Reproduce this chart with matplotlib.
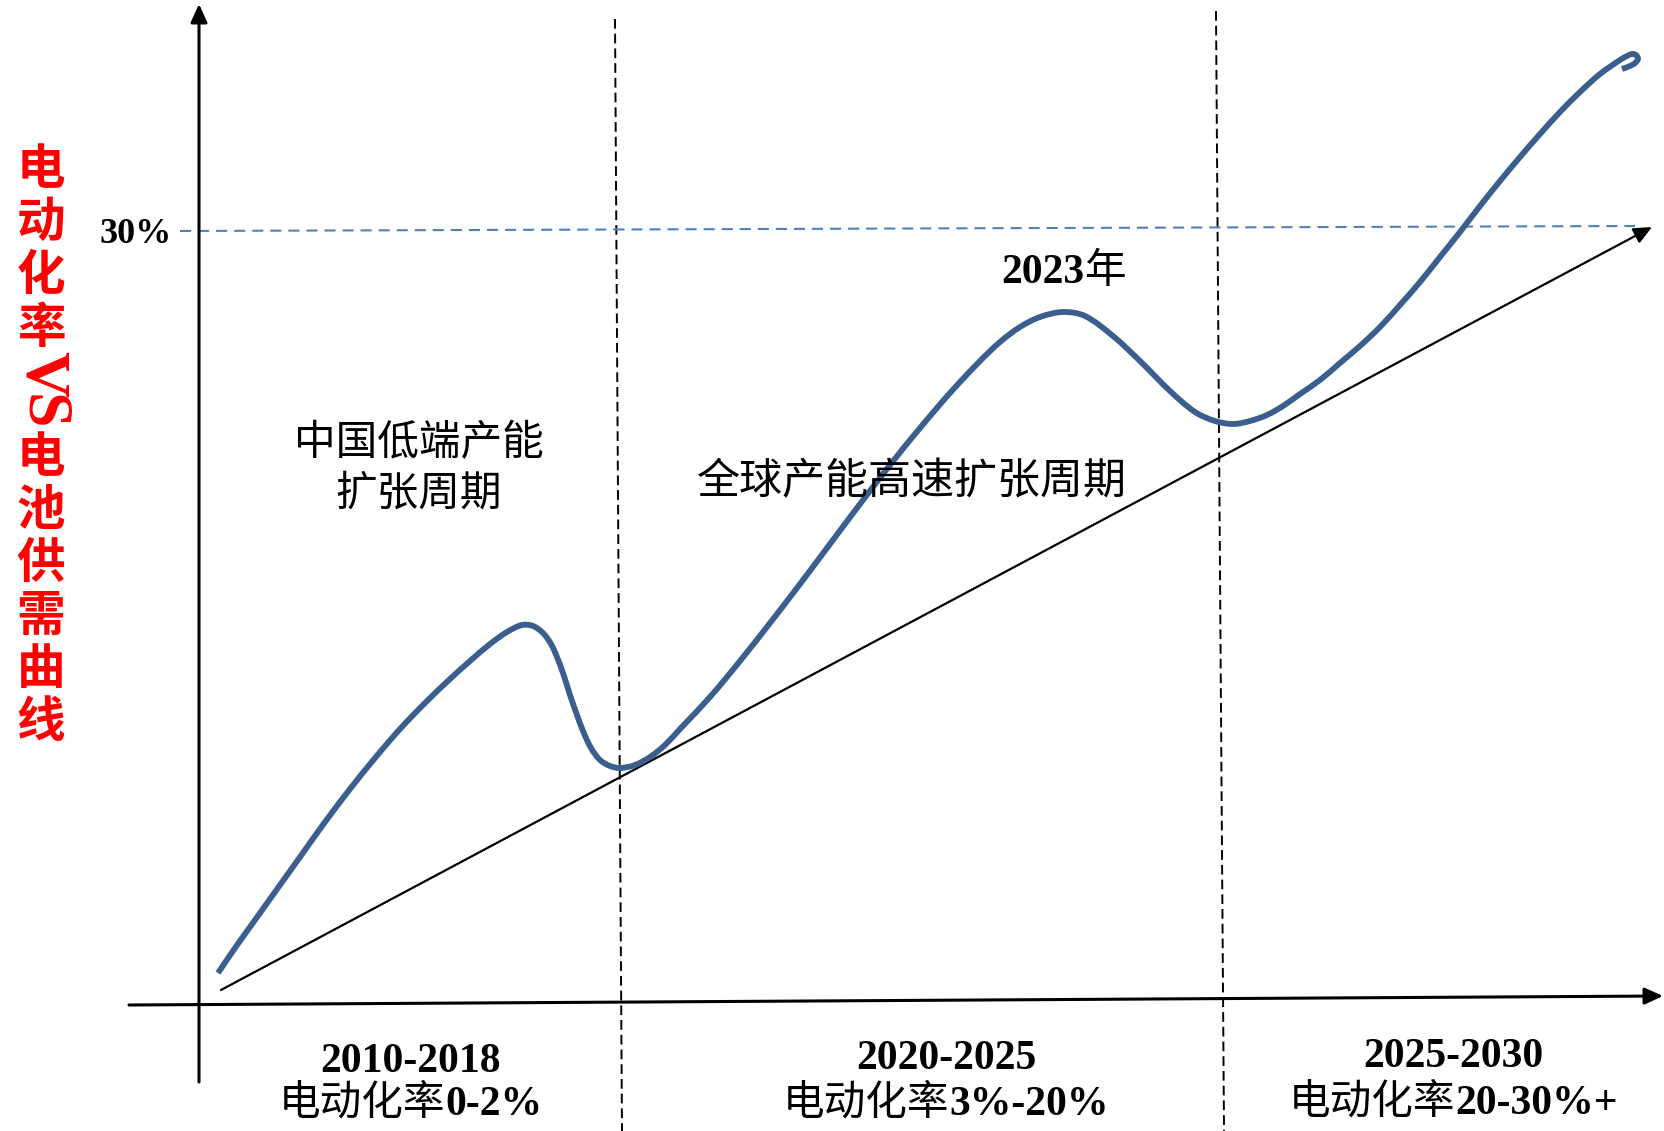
import matplotlib
matplotlib.use('Agg')
import math
import matplotlib.pyplot as plt
from matplotlib.path import Path
from matplotlib.patches import PathPatch

W, H, DPI = 1664, 1131, 100

# ---- schematic data (canvas units) ----
curve_x = [218, 235, 250, 275, 300, 325, 350, 375, 400, 425, 450, 470, 490, 507, 522,
           533, 543, 551, 557, 564, 570, 577, 583, 591, 600, 610, 620, 635, 650, 665,
           680, 710, 740, 770, 800, 830, 860, 890, 920, 950, 980, 1000, 1020, 1040, 1063,
           1085, 1113, 1140, 1170, 1195, 1215, 1233,
           1250, 1267, 1283, 1300, 1320, 1340, 1360, 1380, 1400, 1420, 1440, 1460,
           1480, 1500, 1520, 1540, 1560, 1580, 1600, 1620, 1627, 1632,
           1636, 1638, 1635, 1630, 1622]
curve_y = [973, 948, 927, 892, 857, 822, 789, 758, 729, 703, 679, 661, 644, 632, 625,
           626, 633, 644, 657, 676, 695, 715, 731, 748, 760, 766, 768, 765, 757, 745,
           729, 697, 661, 623, 584, 544, 504, 465, 428, 393, 361, 342, 327, 317, 312,
           316, 336, 361, 391, 412, 421, 424,
           421, 415, 406, 394, 380, 363, 346, 327, 305, 282, 257, 232,
           206, 181, 157, 134, 112, 92, 74, 60, 56, 54,
           55, 59, 63, 66, 69]
trend_x = [221, 1652]
trend_y = [990, 227]
threshold_label = '30%'
period_labels = ['2010-2018', '2020-2025', '2025-2030']
rate_labels = ['电动化率0-2%', '电动化率3%-20%', '电动化率20-30%+']
phase1_lines = ['中国低端产能', '扩张周期']
phase2_label = '全球产能高速扩张周期'
peak_label = '2023年'
ylabel_chars = list('电动化率VS电池供需曲线')

CJK = 'Noto Sans CJK SC'
SERIF = 'Liberation Serif'
BLUE = '#3a5f8e'
LIGHTBLUE = '#4f81bd'

plt.rcParams['lines.scale_dashes'] = False

fig = plt.figure(figsize=(W / DPI, H / DPI), dpi=DPI)
ax = fig.add_axes([0, 0, 1, 1])
ax.set_xlim(0, W)
ax.set_ylim(H, 0)
ax.axis('off')
renderer = fig.canvas.get_renderer()


def is_cjk(c):
    return ord(c) > 0x2E80


def rich_text(x, y, s, size, color='black', cjk_weight='medium'):
    """Centered mixed text: CJK in Noto Sans CJK, others in bold serif; y = baseline."""
    runs = []
    for c in s:
        kind = is_cjk(c)
        if runs and runs[-1][0] == kind:
            runs[-1][1] += c
        else:
            runs.append([kind, c])
    arts = []
    for kind, txt in runs:
        if kind:
            t = ax.text(0, y, txt, fontsize=size, family=[CJK], weight=cjk_weight,
                        color=color, ha='left', va='baseline', zorder=6)
        else:
            t = ax.text(0, y, txt, fontsize=size, family=[SERIF, CJK], weight='bold',
                        color=color, ha='left', va='baseline', zorder=6)
        arts.append(t)
    widths = [t.get_window_extent(renderer).width for t in arts]
    start = x - sum(widths) / 2
    for t, w in zip(arts, widths):
        t.set_x(start)
        start += w


def smooth_path(xs, ys):
    """Chord-length parameterised cubic Hermite spline through the points (as Bezier path)."""
    pts = list(zip(xs, ys))
    n = len(pts)
    t = [0.0]
    for i in range(1, n):
        t.append(t[-1] + math.dist(pts[i], pts[i - 1]))
    tang = []
    for i in range(n):
        a = max(i - 1, 0)
        b = min(i + 1, n - 1)
        dt = t[b] - t[a]
        tang.append(((pts[b][0] - pts[a][0]) / dt, (pts[b][1] - pts[a][1]) / dt))
    verts = [pts[0]]
    codes = [Path.MOVETO]
    for i in range(n - 1):
        h = t[i + 1] - t[i]
        c1 = (pts[i][0] + tang[i][0] * h / 3, pts[i][1] + tang[i][1] * h / 3)
        c2 = (pts[i + 1][0] - tang[i + 1][0] * h / 3, pts[i + 1][1] - tang[i + 1][1] * h / 3)
        verts += [c1, c2, pts[i + 1]]
        codes += [Path.CURVE4] * 3
    return Path(verts, codes)


# period boundaries (dashed black)
for (x0, y0, x1, y1) in [(615, 19, 622, 1131), (1216, 11, 1224, 1131)]:
    ax.plot([x0, x1], [y0, y1], color='black', lw=1.4, dashes=(7, 3.6), zorder=2)

# 30% threshold (dashed blue)
ax.plot([180, 1635], [231, 226], color=LIGHTBLUE, lw=1.5, dashes=(8, 5), zorder=2)
ax.text(172, 243, threshold_label, fontsize=26, family=[SERIF], weight='bold',
        ha='right', va='baseline', color='black')

# axes arrows
arrow_kw = dict(arrowstyle='-|>,head_length=0.55,head_width=0.25', mutation_scale=20,
                color='black', shrinkA=0, shrinkB=0)
ax.annotate('', xy=(199, 4), xytext=(199, 1082),
            arrowprops=dict(lw=2.2, **arrow_kw), zorder=3)
ax.annotate('', xy=(1663, 996), xytext=(129, 1005),
            arrowprops=dict(lw=2.2, **arrow_kw), zorder=3)

# trend line with arrow
ax.annotate('', xy=(trend_x[1], trend_y[1]), xytext=(trend_x[0], trend_y[0]),
            arrowprops=dict(lw=1.6, **arrow_kw), zorder=3)

# supply-demand curve
ax.add_patch(PathPatch(smooth_path(curve_x, curve_y), fill=False, edgecolor=BLUE,
                       lw=4.2, capstyle='butt', joinstyle='round', zorder=4))

# annotations
ax.text(419, 444, phase1_lines[0], fontsize=30, family=[CJK], weight='medium',
        ha='center', va='center', zorder=6)
ax.text(419, 494, phase1_lines[1], fontsize=30, family=[CJK], weight='medium',
        ha='center', va='center', zorder=6)
ax.text(912, 482, phase2_label, fontsize=31, family=[CJK], weight='medium',
        ha='center', va='center', zorder=6)
rich_text(1064, 283, peak_label, 30)

# bottom period labels
centers = [411, 946, 1453]
base1 = [1072, 1069, 1067]
base2 = [1115, 1115, 1114]
for cx, b1, b2, p, r in zip(centers, base1, base2, period_labels, rate_labels):
    rich_text(cx, b1, p, 30)
    rich_text(cx, b2, r, 30)

# vertical red y-label
y = 143
for ch in ylabel_chars:
    if is_cjk(ch):
        pitch = 53
        ax.text(41, y + pitch / 2, ch, fontsize=35, family=[CJK], weight='bold',
                color='red', ha='center', va='center')
    else:
        pitch = 38
        ax.text(41, y + pitch / 2, ch, fontsize=46, family=[SERIF], weight='bold',
                color='red', ha='center', va='center', rotation=-90)
    y += pitch

fig.savefig('out.png', dpi=DPI)
